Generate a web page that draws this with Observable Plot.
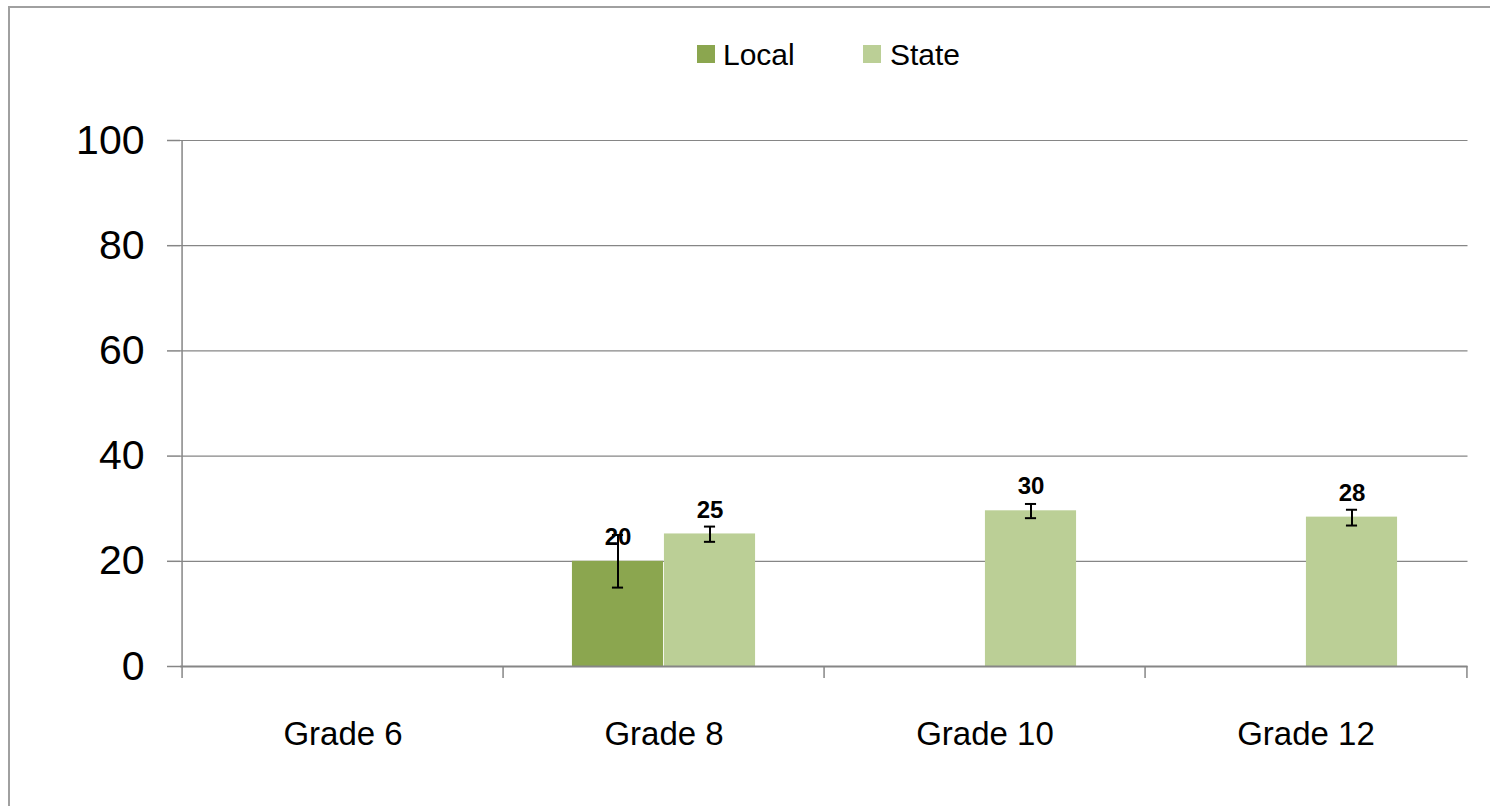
<!DOCTYPE html>
<html><head><meta charset="utf-8">
<script src="https://cdn.jsdelivr.net/npm/d3@7"></script>
<script src="https://cdn.jsdelivr.net/npm/@observablehq/plot@0.6"></script>
<style>
body{margin:0;background:#fff;font-family:"Liberation Sans",Arial,sans-serif;}
#wrap{position:relative;width:1490px;height:806px;overflow:hidden;background:#fff;}
#border{position:absolute;left:8px;top:6px;width:2000px;height:2000px;border-left:2px solid #a0a0a0;border-top:2px solid #a0a0a0;}
.sw{position:absolute;width:18px;height:18px;top:45px;}
.lt{position:absolute;top:36px;font-size:30px;line-height:38px;color:#000;}
#chart{position:absolute;left:0;top:0;}
</style>
</head><body>
<div id="wrap">
  <div id="border"></div>
  <div id="chart"></div>
  <div id="legend"></div>
</div>
<script>
// ---- data ----
const grades = ["Grade 6", "Grade 8", "Grade 10", "Grade 12"];
const seriesNames = ["Local", "State"];
const seriesColors = ["#8ba64f", "#bbcf96"];
const localValues = [null, 20, null, null];
const localLow    = [null, 15, null, null];
const localHigh   = [null, 25, null, null];
const stateValues = [null, 25.2, 29.6, 28.4];
const stateLow    = [null, 23.7, 28.2, 26.8];
const stateHigh   = [null, 26.6, 30.9, 29.8];
const yTicks = [0, 20, 40, 60, 80, 100];

// ---- layout ----
const W = 1490, H = 806, mL = 180, mR = 22.5, mT = 140, mB = 140;
const step = (W - mL - mR) / grades.length;
const barW = 92;
const outer = (step - 2 * barW) / 2;
const capW = 12;
const gray = "#868686";

function rowsFor(name, vals, lo, hi) {
  const out = [];
  grades.forEach((g, i) => {
    if (vals[i] != null) out.push({grade: g, series: name, value: vals[i], lo: lo[i], hi: hi[i], label: String(Math.round(vals[i]))});
  });
  return out;
}
const seriesRows = {
  Local: rowsFor("Local", localValues, localLow, localHigh),
  State: rowsFor("State", stateValues, stateLow, stateHigh)
};
const offsets = {Local: -barW / 2, State: barW / 2};
const insets = {
  Local: {insetLeft: outer, insetRight: step - outer - barW},
  State: {insetLeft: outer + barW, insetRight: outer}
};

const marks = [
  Plot.gridY(yTicks.filter(t => t > 0), {stroke: gray, strokeOpacity: 1, strokeWidth: 1.2}),
  Plot.axisY(yTicks, {tickSize: 13, tickPadding: 23, fontSize: 41, stroke: gray, fill: "#000", strokeWidth: 1.5, label: null, tickFormat: d => String(d)}),
  Plot.axisX({tickSize: 0, tickPadding: 55, fontSize: 33, fill: "#000", label: null})
];
seriesNames.forEach((s, k) => {
  marks.push(Plot.barY(seriesRows[s], {x: "grade", y: "value", fill: seriesColors[k], ...insets[s]}));
});
marks.push(Plot.ruleY([0], {stroke: gray, strokeWidth: 2}));
// y axis line and category boundary ticks
marks.push(Plot.ruleX([grades[0]], {x: d => d, dx: -step / 2, y1: 100, y2: 0, insetBottom: -12, stroke: gray, strokeWidth: 1.5}));
marks.push(Plot.ruleX(grades.slice(1), {x: d => d, dx: -step / 2, y1: 0, y2: 0, insetBottom: -12, stroke: gray, strokeWidth: 1.5}));
marks.push(Plot.ruleX([grades[grades.length - 1]], {x: d => d, dx: step / 2, y1: 0, y2: 0, insetBottom: -12, stroke: gray, strokeWidth: 1.5}));
// error bars and labels
seriesNames.forEach(s => {
  const rows = seriesRows[s], dx = offsets[s];
  marks.push(Plot.ruleX(rows, {x: "grade", y1: "lo", y2: "hi", dx, stroke: "#000", strokeWidth: 2}));
  marks.push(Plot.tickY(rows, {x: "grade", y: "lo", dx, insetLeft: (step - capW) / 2, insetRight: (step - capW) / 2, stroke: "#000", strokeWidth: 2}));
  marks.push(Plot.tickY(rows, {x: "grade", y: "hi", dx, insetLeft: (step - capW) / 2, insetRight: (step - capW) / 2, stroke: "#000", strokeWidth: 2}));
  marks.push(Plot.text(rows, {x: "grade", y: "value", text: "label", dx, dy: -24, fontSize: 24, fontWeight: "bold", fill: "#000"}));
});

const chart = Plot.plot({
  width: W, height: H,
  marginLeft: mL, marginRight: mR, marginTop: mT, marginBottom: mB,
  style: {fontFamily: '"Liberation Sans", Arial, sans-serif', background: "transparent", overflow: "visible"},
  x: {domain: grades, padding: 0},
  y: {domain: [0, 100]},
  marks
});
document.getElementById("chart").appendChild(chart);

// legend
const legend = document.getElementById("legend");
const legendPos = [{sq: 697, tx: 723}, {sq: 863, tx: 890}];
seriesNames.forEach((s, k) => {
  const sw = document.createElement("div");
  sw.className = "sw"; sw.style.left = legendPos[k].sq + "px"; sw.style.background = seriesColors[k];
  const t = document.createElement("div");
  t.className = "lt"; t.style.left = legendPos[k].tx + "px"; t.textContent = s;
  legend.appendChild(sw); legend.appendChild(t);
});
</script>
</body></html>
